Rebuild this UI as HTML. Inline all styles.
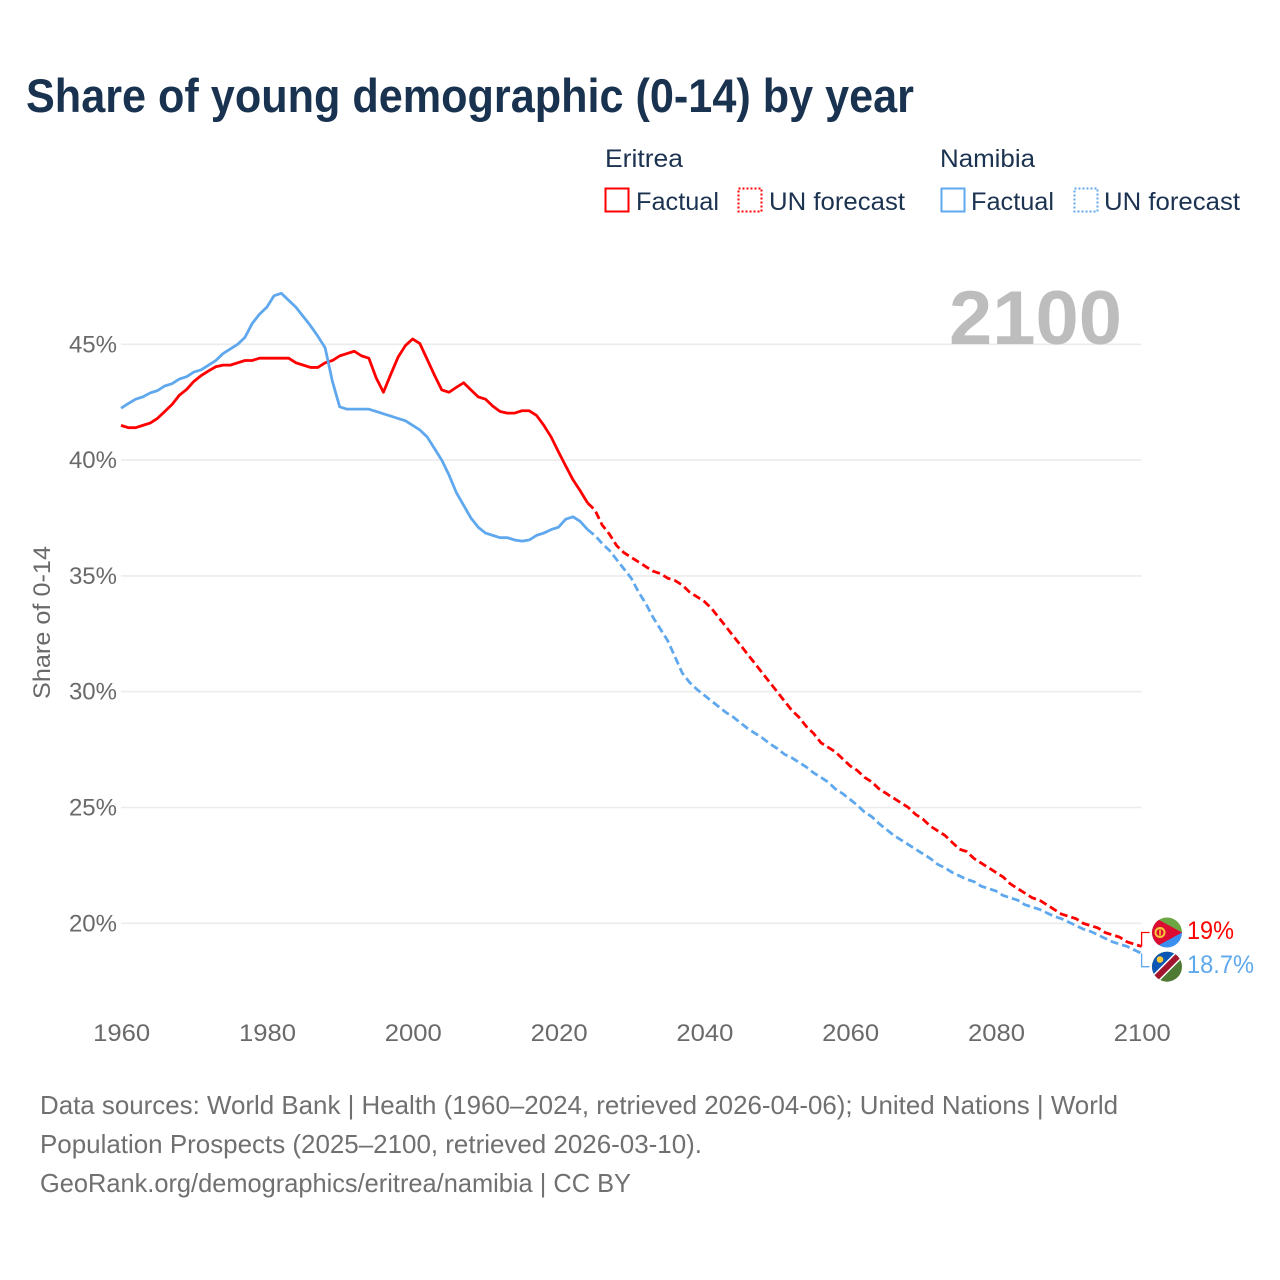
<!DOCTYPE html>
<html lang="en">
<head>
<meta charset="utf-8">
<title>Share of young demographic (0-14) by year</title>
<style>
html,body{margin:0;padding:0;background:#fff;}
svg{display:block;font-family:"Liberation Sans",Arial,sans-serif;}
</style>
</head>
<body>
<svg id="chart" xmlns="http://www.w3.org/2000/svg" width="1280" height="1280" viewBox="0 0 1280 1280">
  <defs>
    <clipPath id="clip-er"><circle cx="1167" cy="932.5" r="15"/></clipPath>
    <clipPath id="clip-na"><circle cx="1167" cy="966.7" r="15"/></clipPath>
  </defs>
  <rect x="0" y="0" width="1280" height="1280" fill="#fff"/>
  <text x="26" y="112" font-size="47" font-weight="700" fill="#18324f" textLength="888" lengthAdjust="spacingAndGlyphs">Share of young demographic (0-14) by year</text>

  <g font-size="25" fill="#1b3250">
    <text x="605" y="167" textLength="78" lengthAdjust="spacingAndGlyphs">Eritrea</text>
    <rect x="605.5" y="188.5" width="23" height="23" fill="none" stroke="#ff0000" stroke-width="2"/>
    <text x="636" y="210" textLength="83" lengthAdjust="spacingAndGlyphs">Factual</text>
    <rect x="738.5" y="188.5" width="23" height="23" fill="none" stroke="#ff0000" stroke-width="2" stroke-dasharray="2 2"/>
    <text x="769" y="210" textLength="136" lengthAdjust="spacingAndGlyphs">UN forecast</text>
    <text x="940" y="167" textLength="95" lengthAdjust="spacingAndGlyphs">Namibia</text>
    <rect x="941.5" y="188.5" width="23" height="23" fill="none" stroke="#5fa8ee" stroke-width="2"/>
    <text x="971" y="210" textLength="83" lengthAdjust="spacingAndGlyphs">Factual</text>
    <rect x="1074.5" y="188.5" width="23" height="23" fill="none" stroke="#5fa8ee" stroke-width="2" stroke-dasharray="2 2"/>
    <text x="1104" y="210" textLength="136" lengthAdjust="spacingAndGlyphs">UN forecast</text>
  </g>

  <text transform="translate(50,622.5) rotate(-90)" text-anchor="middle" font-size="24" fill="#6a6a6a" textLength="153" lengthAdjust="spacingAndGlyphs">Share of 0-14</text>

  <g id="grid"></g>
  <text x="949" y="344" font-size="76" font-weight="700" fill="#bdbdbd" textLength="173" lengthAdjust="spacingAndGlyphs">2100</text>
  <g id="ylabels"></g>
  <g id="xlabels"></g>
  <g id="series"></g>

  <g clip-path="url(#clip-er)">
    <rect x="1150" y="915" width="34" height="18" fill="#6ca544"/>
    <rect x="1150" y="932" width="34" height="18" fill="#3b8ff0"/>
    <polygon points="1150,915 1182,932.5 1150,950" fill="#dc0b32"/>
    <circle cx="1160" cy="932.5" r="4.5" fill="none" stroke="#f9c93a" stroke-width="2"/>
    <rect x="1159.2" y="929.5" width="1.6" height="6" fill="#f9c93a"/>
  </g>
  <g clip-path="url(#clip-na)">
    <rect x="1150" y="950" width="34" height="34" fill="#4f7a32"/>
    <polygon points="1150,950 1184,950 1150,984" fill="#0b57b3"/>
    <line x1="1150" y1="984" x2="1184" y2="950" stroke="#fff" stroke-width="9"/>
    <line x1="1150" y1="984" x2="1184" y2="950" stroke="#a3142f" stroke-width="6"/>
    <circle cx="1160" cy="959.5" r="3.3" fill="#f9c93a"/>
  </g>

  <g font-size="26" fill="#707070">
    <text x="40" y="1114" textLength="1078" lengthAdjust="spacingAndGlyphs">Data sources: World Bank | Health (1960–2024, retrieved 2026-04-06); United Nations | World</text>
    <text x="40" y="1153" textLength="662" lengthAdjust="spacingAndGlyphs">Population Prospects (2025–2100, retrieved 2026-03-10).</text>
    <text x="40" y="1192" textLength="591" lengthAdjust="spacingAndGlyphs">GeoRank.org/demographics/eritrea/namibia | CC BY</text>
  </g>
</svg>
<script>
const xTicks = [1960, 1980, 2000, 2020, 2040, 2060, 2080, 2100];
const yTicks = [20, 25, 30, 35, 40, 45];
const factualStartYear = 1960;
const forecastStartYear = 2024;

const eritreaFactual = [
  41.5,41.4,41.4,41.5,41.6,41.8,42.1,42.4,42.8,43.05,
  43.4,43.65,43.85,44.03,44.1,44.1,44.2,44.3,44.3,44.4,
  44.4,44.4,44.4,44.4,44.2,44.1,44.0,44.0,44.2,44.3,
  44.5,44.6,44.7,44.5,44.4,43.55,42.93,43.7,44.44,44.94,
  45.23,45.03,44.35,43.67,43.03,42.93,43.14,43.34,43.03,42.73,
  42.63,42.33,42.1,42.03,42.03,42.13,42.13,41.93,41.5,41.0,
  40.36,39.75,39.15,38.67,38.15
];
const eritreaForecast = [
  38.15,37.85,37.2,36.8,36.3,36.0,35.8,35.6,35.4,35.2,35.1,
  34.9,34.8,34.6,34.3,34.1,33.9,33.6,33.2,32.8,32.4,
  32.0,31.6,31.2,30.8,30.4,30.0,29.6,29.2,28.9,28.5,
  28.2,27.8,27.6,27.4,27.1,26.8,26.6,26.3,26.1,25.8,
  25.6,25.4,25.2,25.0,24.7,24.5,24.2,24.0,23.8,23.5,
  23.2,23.1,22.8,22.6,22.4,22.2,22.0,21.7,21.5,21.3,
  21.1,21.0,20.8,20.6,20.4,20.3,20.2,20.0,19.9,19.8,
  19.6,19.5,19.4,19.2,19.1,19
];
const namibiaFactual = [
  42.24,42.44,42.63,42.73,42.9,43.0,43.2,43.3,43.5,43.6,
  43.8,43.9,44.1,44.3,44.6,44.8,45.0,45.3,45.9,46.3,
  46.6,47.1,47.2,46.9,46.6,46.2,45.8,45.35,44.85,43.4,
  42.3,42.2,42.2,42.2,42.2,42.1,42.0,41.9,41.8,41.7,
  41.5,41.3,41.0,40.5,40.0,39.35,38.6,38.05,37.5,37.1,
  36.85,36.75,36.65,36.65,36.55,36.5,36.55,36.75,36.85,37.0,
  37.1,37.45,37.55,37.35,37.0
];
const namibiaForecast = [
  37.0,36.75,36.4,36.1,35.7,35.3,34.9,34.3,33.8,33.2,32.7,
  32.2,31.5,30.8,30.4,30.1,29.85,29.6,29.35,29.1,28.9,
  28.65,28.4,28.2,28.0,27.75,27.55,27.3,27.15,26.95,26.75,
  26.5,26.3,26.1,25.8,25.6,25.35,25.1,24.8,24.6,24.3,
  24.05,23.8,23.6,23.4,23.2,23.0,22.8,22.55,22.4,22.2,
  22.05,21.9,21.8,21.6,21.5,21.4,21.2,21.1,21.0,20.8,
  20.7,20.6,20.45,20.3,20.2,20.05,19.9,19.75,19.65,19.5,
  19.35,19.2,19.1,19.0,18.85,18.7
];

const NS = 'http://www.w3.org/2000/svg';
const xOf = function (year) { return 121 + (year - 1960) * 7.29; };
const yOf = function (v) { return 344.3 + (45 - v) * 23.16; };
const lineFrom = function (values, start) {
  return values.map(function (v, i) {
    return (i ? 'L' : 'M') + xOf(start + i).toFixed(2) + ' ' + yOf(v).toFixed(2);
  }).join('');
};

const grid = document.getElementById('grid');
const yLabels = document.getElementById('ylabels');
const xLabels = document.getElementById('xlabels');
const seriesGroup = document.getElementById('series');

yTicks.forEach(function (t) {
  const ln = document.createElementNS(NS, 'line');
  
  
  ln.setAttribute('x1', xOf(1960));
  ln.setAttribute('x2', xOf(2100));
  ln.setAttribute('y1', yOf(t));
  ln.setAttribute('y2', yOf(t));
  ln.setAttribute('stroke', '#ececec');
  ln.setAttribute('stroke-width', '1.6');
  grid.appendChild(ln);

  const lab = document.createElementNS(NS, 'text');
  
  
  lab.setAttribute('x', 117);
  lab.setAttribute('y', yOf(t) + 8);
  lab.setAttribute('text-anchor', 'end');
  lab.setAttribute('font-size', '24');
  lab.setAttribute('fill', '#6a6a6a');
  lab.textContent = t + '%';
  yLabels.appendChild(lab);
});

xTicks.forEach(function (t) {
  const lab = document.createElementNS(NS, 'text');
  
  
  lab.setAttribute('x', xOf(t) + 0.7);
  lab.setAttribute('y', 1041);
  lab.setAttribute('text-anchor', 'middle');
  lab.setAttribute('font-size', '24');
  lab.setAttribute('fill', '#6a6a6a');
  lab.setAttribute('textLength', '57');
  lab.setAttribute('lengthAdjust', 'spacingAndGlyphs');
  lab.textContent = String(t);
  xLabels.appendChild(lab);
});

const drawSeries = function (name, color, factual, forecast, labelY, textWidth) {
  const solid = document.createElementNS(NS, 'path');
  
  
  solid.setAttribute('d', lineFrom(factual, factualStartYear));
  solid.setAttribute('fill', 'none');
  solid.setAttribute('stroke', color);
  solid.setAttribute('stroke-width', '2.8');
  solid.setAttribute('stroke-linejoin', 'round');
  seriesGroup.appendChild(solid);

  const dashed = document.createElementNS(NS, 'path');
  
  
  dashed.setAttribute('d', lineFrom(forecast, forecastStartYear));
  dashed.setAttribute('fill', 'none');
  dashed.setAttribute('stroke', color);
  dashed.setAttribute('stroke-width', '2.8');
  dashed.setAttribute('stroke-dasharray', '8 4');
  seriesGroup.appendChild(dashed);

  const last = forecast[forecast.length - 1];
  const lastYear = forecastStartYear + forecast.length - 1;
  const conn = document.createElementNS(NS, 'path');
  
  
  conn.setAttribute('d', 'M' + xOf(lastYear) + ' ' + yOf(last) + 'V' + labelY + 'H1149.5');
  conn.setAttribute('fill', 'none');
  conn.setAttribute('stroke', color);
  conn.setAttribute('stroke-width', '1.3');
  seriesGroup.appendChild(conn);

  const end = document.createElementNS(NS, 'text');
  
  
  end.setAttribute('x', 1187);
  end.setAttribute('y', labelY + 6.5);
  end.setAttribute('font-size', '25');
  end.setAttribute('fill', color);
  end.setAttribute('textLength', textWidth);
  end.setAttribute('lengthAdjust', 'spacingAndGlyphs');
  end.textContent = last + '%';
  seriesGroup.appendChild(end);
};

drawSeries('eritrea', '#ff0000', eritreaFactual, eritreaForecast, 932.5, 47);
drawSeries('namibia', '#5fa8ee', namibiaFactual, namibiaForecast, 966.7, 67);
</script>
</body>
</html>
